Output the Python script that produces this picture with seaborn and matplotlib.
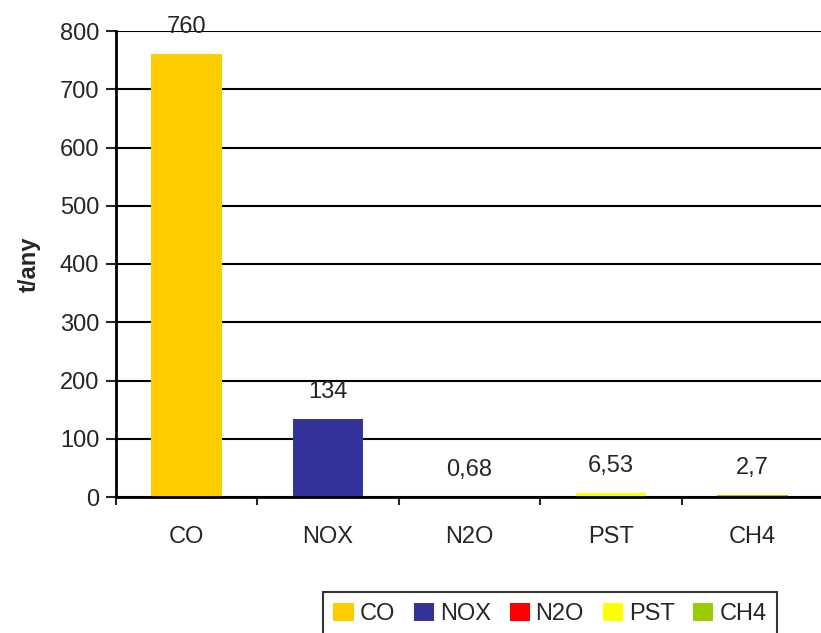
import pandas as pd
import seaborn as sns
import matplotlib.pyplot as plt
from matplotlib.patches import Patch
from matplotlib.ticker import FixedLocator

gases = ['CO', 'NOX', 'N2O', 'PST', 'CH4']
emissions = [760, 134, 0.68, 6.53, 2.7]
value_labels = ['760', '134', '0,68', '6,53', '2,7']
colors = ['#FFCC00', '#333399', '#FF0000', '#FFFF00', '#99CC00']

df = pd.DataFrame({'gas': gases, 'tones': emissions})

sns.set_style("white")
plt.rcParams['font.family'] = ['Liberation Sans', 'DejaVu Sans']
fs = 17

fig = plt.figure(figsize=(8.21, 6.33), dpi=100)
ax = fig.add_axes([116 / 821, 136 / 633, 707 / 821, 466 / 633])

sns.barplot(x='gas', y='tones', hue='gas', data=df, palette=dict(zip(gases, colors)),
            width=0.5, saturation=1, legend=False, linewidth=0, ax=ax)

ax.set_ylim(0, 800)
ax.set_xlim(-0.5, 4.5)
ax.set_yticks(range(0, 801, 100))
ax.yaxis.grid(True, color='black', linewidth=1.5)
ax.set_axisbelow(True)
ax.tick_params(axis='y', labelsize=fs, length=7, width=1.5, direction='out', left=True, pad=5)

# tick marks between categories, labels in the middle
ax.xaxis.set_major_locator(FixedLocator([i - 0.5 for i in range(6)]))
ax.xaxis.set_minor_locator(FixedLocator(range(5)))
ax.set_xticklabels([])
ax.set_xticklabels(gases, minor=True)
ax.tick_params(axis='x', which='major', length=6, width=1.5, direction='out', bottom=True)
ax.tick_params(axis='x', which='minor', length=0, labelsize=fs, pad=21)

for side in ['top', 'right']:
    ax.spines[side].set_visible(False)
for side in ['left', 'bottom']:
    ax.spines[side].set_color('black')
    ax.spines[side].set_linewidth(2)

ax.set_xlabel('')
ax.set_ylabel('t/any', fontsize=fs, fontweight='bold', labelpad=14)

for i, (v, lab) in enumerate(zip(emissions, value_labels)):
    ax.annotate(lab, (i, v), xytext=(0, 19.5), textcoords='offset points',
                ha='center', va='center', fontsize=fs, annotation_clip=False)

handles = [Patch(facecolor=c, edgecolor='none') for c in colors]
leg = fig.legend(handles, gases, loc='upper center', bbox_to_anchor=(550 / 821, 1 - 592 / 633),
                 borderaxespad=0, ncol=5, fontsize=fs, frameon=True, fancybox=False,
                 handlelength=0.85, handleheight=0.85, handletextpad=0.25, columnspacing=0.8,
                 borderpad=0.45)
leg.get_frame().set_edgecolor('black')
leg.get_frame().set_linewidth(1.5)

plt.savefig('out.png', dpi=100)
